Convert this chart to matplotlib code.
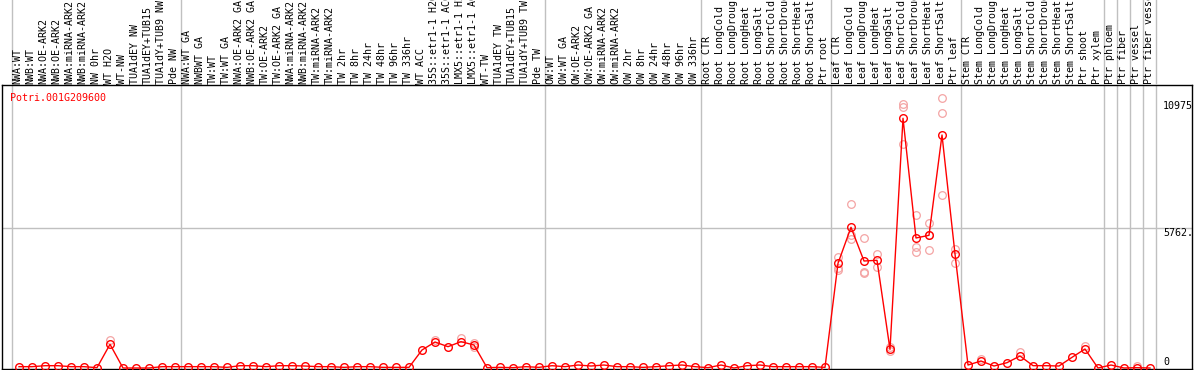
import matplotlib
matplotlib.use("Agg")
import matplotlib.pyplot as plt

# sample labels (header, rotated)
labels = [
    "NWA:WT", "NWB:WT", "NWA:OE-ARK2", "NWB:OE-ARK2", "NWA:miRNA-ARK2", "NWB:miRNA-ARK2",
    "NW 0hr", "WT H2O", "WT-NW", "TUA1dEY NW", "TUA1dEY+TUB15", "TUA1dY+TUB9 NW", "Pde NW",
    "NWA:WT GA", "NWBWT GA", "TW:WT", "TW:WT GA", "NWA:OE-ARK2 GA", "NWB:OE-ARK2 GA",
    "TW:OE-ARK2", "TW:OE-ARK2 GA", "NWA:miRNA-ARK2", "NWB:miRNA-ARK2", "TW:miRNA-ARK2",
    "TW:miRNA-ARK2", "TW 2hr", "TW 8hr", "TW 24hr", "TW 48hr", "TW 96hr", "TW 336hr",
    "WT ACC", "35S::etr1-1 H2O", "35S::etr1-1 ACC", "LMX5::etr1-1 H2O", "LMX5::etr1-1 ACC",
    "WT-TW", "TUA1dEY TW", "TUA1dEY+TUB15", "TUA1dY+TUB9 TW", "Pde TW",
    "OW:WT", "OW:WT GA", "OW:OE-ARK2", "OW:OE-ARK2 GA", "OW:miRNA-ARK2", "OW:miRNA-ARK2",
    "OW 2hr", "OW 8hr", "OW 24hr", "OW 48hr", "OW 96hr", "OW 336hr",
    "Root CTR", "Root LongCold", "Root LongDrought", "Root LongHeat", "Root LongSalt",
    "Root ShortCold", "Root ShortDrought", "Root ShortHeat", "Root ShortSalt", "Ptr root",
    "Leaf CTR", "Leaf LongCold", "Leaf LongDrought", "Leaf LongHeat", "Leaf LongSalt",
    "Leaf ShortCold", "Leaf ShortDrought", "Leaf ShortHeat", "Leaf ShortSalt", "Ptr leaf",
    "Stem CTR", "Stem LongCold", "Stem LongDrought", "Stem LongHeat", "Stem LongSalt",
    "Stem ShortCold", "Stem ShortDrought", "Stem ShortHeat", "Stem ShortSalt",
    "Ptr shoot", "Ptr xylem", "Ptr phloem", "Ptr fiber", "Ptr vessel", "Ptr fiber vessel",
]

# mean expression per sample
means = [
    55, 55, 95, 95, 55, 55, 14, 975, 0, 0, 0, 55, 55,
    55, 55, 55, 27, 95, 95, 55, 95, 95, 82, 55, 55, 27, 55, 55, 27, 27, 27,
    741, 1070, 878, 1084, 947, 14, 27, 14, 55, 27,
    95, 55, 123, 82, 123, 55, 55, 27, 55, 95, 123, 55,
    14, 123, 0, 95, 123, 55, 55, 55, 55, 27,
    4309, 5791, 4404, 4432, 768, 10278, 5351, 5462, 9590, 4692,
    123, 288, 82, 219, 494, 96, 96, 82, 439, 782, 0, 123, 0, 14, 0,
]

# visible replicate points (sample index, value)
rep_idx = [7, 32, 34, 35, 35,
           63, 63, 63, 64, 64, 64, 65, 65, 65, 66, 66, 67, 67,
           68, 68, 68, 69, 69, 69, 70, 70, 70, 71, 71, 71, 72, 72,
           74, 77, 82, 86]
rep_val = [1152, 1152, 1221, 1043, 878,
           4581, 4103, 4034, 6738, 5474, 5297, 5338, 3964, 3923, 4692, 4145, 877, 713,
           10866, 10755, 9207, 6297, 4993, 4762, 5955, 5474, 4844, 11100, 10483, 7120,
           4898, 4334,
           357, 672, 919, 96]

# first sample of each group (separator lines)
group_starts = [0, 13, 41, 53, 63, 73, 84, 85, 86, 87, 88]

gene = "Potri.001G209600"
ymax_label = 10975
grid_val = 5762.5

W, H = 1194, 370
fig = plt.figure(figsize=(W / 100, H / 100), dpi=100)

x0 = (2 - 19) / 13
x1 = (1192 - 19) / 13
ax = fig.add_axes([2 / W, 1 / H, 1190 / W, 284 / H])
hd = fig.add_axes([2 / W, 285 / H, 1190 / W, 85 / H])

mono = "DejaVu Sans Mono"
xs = list(range(len(means)))

ax.axhline(grid_val, color="#c0c0c0", lw=1, zorder=1)
for g in group_starts:
    ax.axvline(g - 0.55, color="#c0c0c0", lw=1, zorder=1)
    hd.axvline(g - 0.55, color="#c0c0c0", lw=1, zorder=1)

# replicates in light pink, mean line on top
ax.plot(rep_idx, rep_val, ls="none", marker="o", ms=5.5, mfc="none",
        mec="#f4a4a4", mew=0.9, zorder=2)
ax.plot(xs, means, color="red", lw=1, marker="o", ms=5.5, mfc="none",
        mec="red", mew=1.0, zorder=3)

ax.set_xlim(x0, x1)
ax.set_ylim(-41, 11648)
ax.set_xticks([])
ax.set_yticks([])
for s in ax.spines.values():
    s.set_color("black")
    s.set_linewidth(1.0)

ax.text(-0.69, 11319, gene, color="red", family=mono, fontsize=7.2, va="top", ha="left")
ax.text(88.0, ymax_label, str(ymax_label), family=mono, fontsize=7.2, va="top", ha="left", clip_on=True)
ax.text(88.0, grid_val, "%.1f" % grid_val, family=mono, fontsize=7.2, va="top", ha="left", clip_on=True)
ax.text(88.0, 60, "0", family=mono, fontsize=7.2, va="bottom", ha="left", clip_on=True)

hd.set_xlim(x0, x1)
hd.set_ylim(0, 85)
hd.axis("off")
for i, lab in enumerate(labels):
    hd.text(i - 0.1, 1, lab, rotation=90, family=mono, fontsize=7.2, ha="center", va="bottom")

fig.savefig("out.png", dpi=100)
